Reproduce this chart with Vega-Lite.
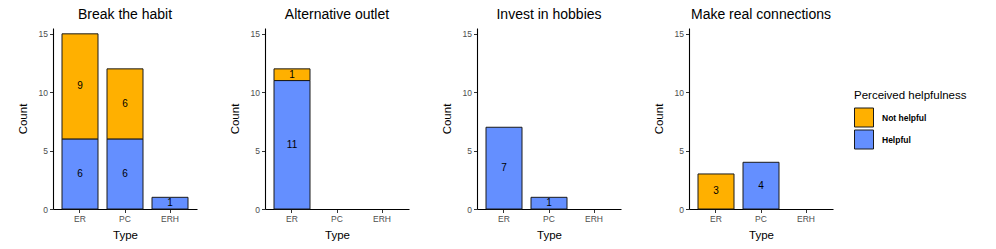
{
  "$schema": "https://vega.github.io/schema/vega-lite/v6.json",
  "padding": {"left": 17, "top": 8, "right": 5, "bottom": 5},
  "data": {"values": [
    {"panel": "Break the habit", "type": "ER", "help": "Helpful", "count": 6},
    {"panel": "Break the habit", "type": "ER", "help": "Not helpful", "count": 9},
    {"panel": "Break the habit", "type": "PC", "help": "Helpful", "count": 6},
    {"panel": "Break the habit", "type": "PC", "help": "Not helpful", "count": 6},
    {"panel": "Break the habit", "type": "ERH", "help": "Helpful", "count": 1},
    {"panel": "Alternative outlet", "type": "ER", "help": "Helpful", "count": 11},
    {"panel": "Alternative outlet", "type": "ER", "help": "Not helpful", "count": 1},
    {"panel": "Invest in hobbies", "type": "ER", "help": "Helpful", "count": 7},
    {"panel": "Invest in hobbies", "type": "PC", "help": "Helpful", "count": 1},
    {"panel": "Make real connections", "type": "ER", "help": "Not helpful", "count": 3},
    {"panel": "Make real connections", "type": "PC", "help": "Helpful", "count": 4}
  ]},
  "transform": [
    {"stack": "count", "groupby": ["panel", "type"], "sort": [{"field": "help", "order": "ascending"}], "as": ["y0", "y1"]},
    {"calculate": "(datum.y0 + datum.y1) / 2", "as": "mid"}
  ],
  "bounds": "flush",
  "spacing": 68,
  "hconcat": [
    {
      "title": {"text": "Break the habit"},
      "width": 144, "height": 181,
      "transform": [{"filter": "datum.panel === 'Break the habit'"}],
      "layer": [
        {"mark": {"type": "bar", "stroke": "#1a1a1a", "strokeWidth": 1},
         "encoding": {
           "x": {"field": "type", "type": "nominal", "title": "Type", "sort": ["ER", "PC", "ERH"], "scale": {"domain": ["ER", "PC", "ERH"], "paddingInner": 0.2, "paddingOuter": 0.2}},
           "y": {"field": "y1", "type": "quantitative", "title": "Count", "scale": {"domain": [0, 15.5], "nice": false}, "axis": {"values": [0, 5, 10, 15]}},
           "y2": {"field": "y0"},
           "color": {"field": "help", "type": "nominal", "title": "Perceived helpfulness", "scale": {"domain": ["Not helpful", "Helpful"], "range": ["#FFB000", "#648FFF"]}}
         }},
        {"mark": {"type": "text", "fontSize": 10, "color": "black"},
         "encoding": {
           "x": {"field": "type", "type": "nominal", "sort": ["ER", "PC", "ERH"]},
           "y": {"field": "mid", "type": "quantitative"},
           "text": {"field": "count", "type": "quantitative"}
         }}
      ]
    },
    {
      "title": {"text": "Alternative outlet"},
      "width": 144, "height": 181,
      "transform": [{"filter": "datum.panel === 'Alternative outlet'"}],
      "layer": [
        {"mark": {"type": "bar", "stroke": "#1a1a1a", "strokeWidth": 1},
         "encoding": {
           "x": {"field": "type", "type": "nominal", "title": "Type", "sort": ["ER", "PC", "ERH"], "scale": {"domain": ["ER", "PC", "ERH"], "paddingInner": 0.2, "paddingOuter": 0.2}},
           "y": {"field": "y1", "type": "quantitative", "title": "Count", "scale": {"domain": [0, 15.5], "nice": false}, "axis": {"values": [0, 5, 10, 15]}},
           "y2": {"field": "y0"},
           "color": {"field": "help", "type": "nominal", "title": "Perceived helpfulness", "scale": {"domain": ["Not helpful", "Helpful"], "range": ["#FFB000", "#648FFF"]}}
         }},
        {"mark": {"type": "text", "fontSize": 10, "color": "black"},
         "encoding": {
           "x": {"field": "type", "type": "nominal", "sort": ["ER", "PC", "ERH"]},
           "y": {"field": "mid", "type": "quantitative"},
           "text": {"field": "count", "type": "quantitative"}
         }}
      ]
    },
    {
      "title": {"text": "Invest in hobbies"},
      "width": 144, "height": 181,
      "transform": [{"filter": "datum.panel === 'Invest in hobbies'"}],
      "layer": [
        {"mark": {"type": "bar", "stroke": "#1a1a1a", "strokeWidth": 1},
         "encoding": {
           "x": {"field": "type", "type": "nominal", "title": "Type", "sort": ["ER", "PC", "ERH"], "scale": {"domain": ["ER", "PC", "ERH"], "paddingInner": 0.2, "paddingOuter": 0.2}},
           "y": {"field": "y1", "type": "quantitative", "title": "Count", "scale": {"domain": [0, 15.5], "nice": false}, "axis": {"values": [0, 5, 10, 15]}},
           "y2": {"field": "y0"},
           "color": {"field": "help", "type": "nominal", "title": "Perceived helpfulness", "scale": {"domain": ["Not helpful", "Helpful"], "range": ["#FFB000", "#648FFF"]}}
         }},
        {"mark": {"type": "text", "fontSize": 10, "color": "black"},
         "encoding": {
           "x": {"field": "type", "type": "nominal", "sort": ["ER", "PC", "ERH"]},
           "y": {"field": "mid", "type": "quantitative"},
           "text": {"field": "count", "type": "quantitative"}
         }}
      ]
    },
    {
      "title": {"text": "Make real connections"},
      "width": 144, "height": 181,
      "transform": [{"filter": "datum.panel === 'Make real connections'"}],
      "layer": [
        {"mark": {"type": "bar", "stroke": "#1a1a1a", "strokeWidth": 1},
         "encoding": {
           "x": {"field": "type", "type": "nominal", "title": "Type", "sort": ["ER", "PC", "ERH"], "scale": {"domain": ["ER", "PC", "ERH"], "paddingInner": 0.2, "paddingOuter": 0.2}},
           "y": {"field": "y1", "type": "quantitative", "title": "Count", "scale": {"domain": [0, 15.5], "nice": false}, "axis": {"values": [0, 5, 10, 15]}},
           "y2": {"field": "y0"},
           "color": {"field": "help", "type": "nominal", "title": "Perceived helpfulness", "scale": {"domain": ["Not helpful", "Helpful"], "range": ["#FFB000", "#648FFF"]}, "legend": {"orient": "none", "legendX": 801, "legendY": 62, "rowPadding": -6}}
         }},
        {"mark": {"type": "text", "fontSize": 10, "color": "black"},
         "encoding": {
           "x": {"field": "type", "type": "nominal", "sort": ["ER", "PC", "ERH"]},
           "y": {"field": "mid", "type": "quantitative"},
           "text": {"field": "count", "type": "quantitative"}
         }}
      ]
    }
  ],
  "resolve": {"scale": {"x": "independent", "y": "independent"}},
  "config": {
    "font": "Liberation Sans",
    "view": {"stroke": null},
    "title": {"fontSize": 14, "fontWeight": "normal", "color": "black", "frame": "group", "anchor": "middle", "baseline": "alphabetic", "offset": 6},
    "axis": {
      "domainColor": "black", "domainWidth": 1.1, "tickColor": "#333333", "tickSize": 3.5, "tickWidth": 1,
      "labelColor": "#4D4D4D", "labelFontSize": 8.5, "labelPadding": 2, "grid": false,
      "titleFontSize": 11.5, "titleFontWeight": "normal", "titleColor": "black"
    },
    "axisX": {"labelAngle": 0, "titlePadding": 6},
    "axisY": {"titlePadding": 10},
    "legend": {
      "titleFontSize": 11.5, "titleFontWeight": "normal", "titleColor": "black", "titlePadding": 6,
      "labelFontSize": 8.5, "labelFontWeight": "bold", "labelColor": "black", "labelOffset": 8,
      "symbolType": "square", "symbolSize": 361, "symbolStrokeColor": "#1a1a1a", "symbolStrokeWidth": 1,
      "symbolOpacity": 1
    }
  }
}
